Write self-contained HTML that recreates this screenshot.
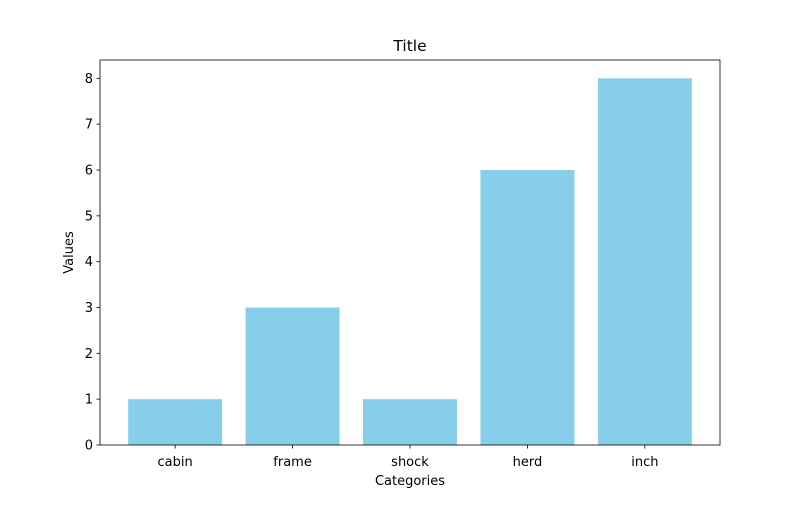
<!DOCTYPE html>
<html><head><meta charset="utf-8"><style>
body{margin:0;background:#fff;font-family:"Liberation Sans","DejaVu Sans",sans-serif;}
svg text{font-family:"DejaVu Sans","Liberation Sans",sans-serif;}
</style></head><body>
<svg id="chart" width="800" height="500" xmlns="http://www.w3.org/2000/svg">
<rect width="800" height="500" fill="#fff"/>
<g id="plot"></g>
</svg>
<script>
const categories = ["cabin","frame","shock","herd","inch"];
const values = [1,3,1,6,8];
const yTicks = [0,1,2,3,4,5,6,7,8];

const L=100,R=720,T=60,B=445;
const yMax=8.4;
const xMin=-0.64,xMax=4.64;
const ns="http://www.w3.org/2000/svg";
const g=document.getElementById('plot');
function X(v){return L+(v-xMin)/(xMax-xMin)*(R-L);}
function Y(v){return B-v/yMax*(B-T);}
function mk(tag,attrs,text){const e=document.createElementNS(ns,tag);for(const k in attrs)e.setAttribute(k,attrs[k]);if(text!==undefined)e.textContent=text;g.appendChild(e);return e;}

categories.forEach((c,i)=>{
  const b=mk('rect',{x:X(i-0.4),y:Y(values[i]),width:X(i+0.4)-X(i-0.4),height:Y(0)-Y(values[i]),fill:'#87ceeb'});
  
  
  const t=mk('line',{x1:X(i),x2:X(i),y1:B,y2:B+3.5,stroke:'#000','stroke-width':0.8});
  
  
  const l=mk('text',{x:X(i),y:B+21,'font-size':13,'text-anchor':'middle',fill:'#000'},c);
  
  
});
yTicks.forEach(v=>{
  const t=mk('line',{x1:L-3.5,x2:L,y1:Y(v),y2:Y(v),stroke:'#000','stroke-width':0.8});
  
  
  const l=mk('text',{x:L-7,y:Y(v)+4.5,'font-size':13,'text-anchor':'end',fill:'#000'},String(v));
  
  
});
const f=mk('rect',{x:L,y:T,width:R-L,height:B-T,fill:'none',stroke:'#000','stroke-width':0.8});


const ti=mk('text',{x:(L+R)/2,y:T-9,'font-size':15.5,'text-anchor':'middle'},'Title');


const xt=mk('text',{x:(L+R)/2,y:485,'font-size':13,'text-anchor':'middle'},'Categories');


const yt=mk('text',{x:73,y:(T+B)/2,'font-size':13,'text-anchor':'middle',transform:'rotate(-90 73 '+((T+B)/2)+')'},'Values');


</script>
</body></html>
